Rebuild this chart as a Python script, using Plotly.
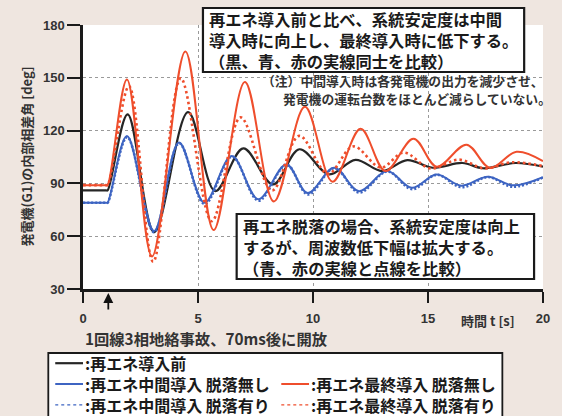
import plotly.graph_objects as go

# ---- data: (time [s], internal phase angle [deg]) read at turning points ----
t_black = [0, 1.0, 1.07, 1.94, 3.09, 4.57, 5.75, 6.97, 8.26, 9.41, 10.7, 11.85, 13.0, 14.1, 15.2, 16.5, 17.4, 18.8, 20]
v_black = [86, 86, 86, 129.2, 62.3, 130.5, 85.6, 109.9, 89.4, 109.4, 95.1, 103.4, 97.0, 103.2, 98.9, 101.6, 98.6, 101.6, 99.5]

t_blue = [0, 1.0, 1.07, 1.91, 3.09, 4.17, 5.28, 6.47, 7.62, 8.84, 9.77, 10.92, 12.0, 13.22, 14.3, 15.37, 16.45, 17.6, 18.68, 20]
v_blue = [79, 79, 79, 116.9, 62.9, 113.3, 79.0, 105.5, 81.0, 100.8, 84.5, 98.9, 85.6, 97.0, 87.5, 95.1, 88.7, 93.8, 88.9, 93.6]

t_blue_drop = [0, 1.0, 1.07, 1.92, 3.09, 4.18, 5.29, 6.48, 7.63, 8.85, 9.78, 10.93, 12.01, 13.23, 14.31, 15.38, 16.46, 17.61, 18.69, 20]
v_blue_drop = [79, 79, 79, 116.3, 62.3, 112.8, 78.3, 105.2, 80.2, 100.6, 83.7, 98.7, 84.8, 96.8, 86.7, 94.9, 87.8, 93.6, 88.1, 93.4]

t_red = [0, 1.0, 1.07, 1.91, 3.00, 4.45, 5.68, 7.04, 8.30, 9.65, 10.85, 12.07, 13.15, 14.37, 15.38, 16.67, 17.70, 18.85, 20]
v_red = [89, 89, 89, 149.1, 48.5, 165.0, 63.5, 147.6, 79.7, 133.5, 91.0, 121.0, 97.0, 115.4, 99.5, 112.0, 98.8, 108.0, 102.7]

t_red_drop = [0, 1.0, 1.07, 2.00, 3.05, 4.25, 5.60, 6.85, 8.22, 9.40, 10.65, 11.75, 12.95, 13.95, 15.10, 16.35, 17.45, 18.65, 20]
v_red_drop = [89, 89, 89, 145.3, 45.5, 149.7, 68.5, 127.5, 86.0, 117.0, 95.5, 111.0, 99.0, 107.5, 98.5, 103.5, 98.5, 102.0, 99.8]

x_ticks = [0, 5, 10, 15, 20]
y_ticks = [30, 60, 90, 120, 150, 180]
fault_time = 1.1

legend_labels = [
    ":再エネ導入前",
    ":再エネ中間導入 脱落無し",
    ":再エネ最終導入 脱落無し",
    ":再エネ中間導入 脱落有り",
    ":再エネ最終導入 脱落有り",
]
box_top_lines = [
    "再エネ導入前と比べ、系統安定度は中間",
    "導入時に向上し、最終導入時に低下する。",
    "（黒、青、赤の実線同士を比較）",
]
box_bottom_lines = [
    "再エネ脱落の場合、系統安定度は向上",
    "するが、周波数低下幅は拡大する。",
    "（青、赤の実線と点線を比較）",
]
note_lines = [
    "（注）中間導入時は各発電機の出力を減少させ、",
    "発電機の運転台数をほとんど減らしていない。",
]
fault_caption = "1回線3相地絡事故、70ms後に開放"

# ---- styling ----
W, H = 562, 416
ML, MR, MT, MB = 83, 15, 25, 127
PW, PH = W - ML - MR, H - MT - MB
BG = "#efe6e0"
BLACK = "#262626"
BLUE = "#3d64c2"
RED = "#ef4e2c"
JP = "Noto Sans CJK JP"
NUM = "Liberation Sans"


def px(xp):
    return (xp - ML) / PW


def py(yp):
    return (H - MB - yp) / PH


fig = go.Figure()

series = [
    (t_black, v_black, BLACK, "solid", 2.2),
    (t_blue_drop, v_blue_drop, BLUE, "2px,2px", 2.6),
    (t_blue, v_blue, BLUE, "solid", 2.0),
    (t_red_drop, v_red_drop, RED, "2.5px,3px", 2.6),
    (t_red, v_red, RED, "solid", 2.0),
]
for tx, vy, col, dash, w in series:
    fig.add_trace(go.Scatter(
        x=tx, y=vy, mode="lines",
        line=dict(color=col, width=w, dash=dash, shape="spline", smoothing=1.0),
        showlegend=False, hoverinfo="skip",
    ))

shapes = []
annotations = []

# framed comment boxes
for (x0, y0, x1, y1) in [(204, 8, 528, 72), (238, 214, 538, 279)]:
    shapes.append(dict(type="rect", xref="paper", yref="paper",
                       x0=px(x0), x1=px(x1), y0=py(y1), y1=py(y0),
                       line=dict(color="#1a1a1a", width=2.2), fillcolor="white", layer="above"))

annotations.append(dict(xref="paper", yref="paper", x=px(208), y=py(40),
                        xanchor="left", yanchor="middle", align="left",
                        text="<br>".join(box_top_lines), showarrow=False,
                        font=dict(family=JP, size=16.3, color="#1a1a1a", weight="bold")))
annotations.append(dict(xref="paper", yref="paper", x=px(242), y=py(247),
                        xanchor="left", yanchor="middle", align="left",
                        text="<br>".join(box_bottom_lines), showarrow=False,
                        font=dict(family=JP, size=16.3, color="#1a1a1a", weight="bold")))
for i, (xr, yy) in enumerate([(550, 80), (557, 98)]):
    annotations.append(dict(xref="paper", yref="paper", x=px(xr), y=py(yy),
                            xanchor="right", yanchor="middle", text=note_lines[i], showarrow=False,
                            font=dict(family=JP, size=12.8, color="#333333", weight="bold")))

# axis titles
annotations.append(dict(xref="paper", yref="paper", x=px(25), y=py(157), textangle=-90,
                        xanchor="center", yanchor="middle", showarrow=False,
                        text="発電機(G1)の内部相差角 [deg]",
                        font=dict(family=JP, size=13, color="#333333", weight="bold")))
annotations.append(dict(xref="paper", yref="paper", x=px(492), y=py(320),
                        xanchor="center", yanchor="middle", showarrow=False,
                        text="時間 t [s]",
                        font=dict(family=JP, size=13, color="#333333", weight="bold")))

# fault marker arrow and caption
annotations.append(dict(xref="x", yref="paper", x=fault_time, y=py(293),
                        axref="pixel", ayref="pixel", ax=0, ay=18, text="",
                        showarrow=True, arrowhead=2, arrowsize=1.1, arrowwidth=1.8,
                        arrowcolor="#111111"))
annotations.append(dict(xref="paper", yref="paper", x=px(83), y=py(338),
                        xanchor="left", yanchor="middle", showarrow=False, text=fault_caption,
                        font=dict(family=JP, size=15.3, color="#333333", weight="bold")))

# legend panel: left column has three rows, right column the lower two
shapes.append(dict(type="rect", xref="paper", yref="paper",
                   x0=px(48), x1=px(506), y0=py(440), y1=py(353),
                   line=dict(color="#1a1a1a", width=1.8), fillcolor="white", layer="above"))
row_y = [363.2, 384.0, 404.8]
legend_keys = [
    (55, row_y[0], BLACK, "solid", 2.2),
    (55, row_y[1], BLUE, "solid", 2.0),
    (283, row_y[1], RED, "solid", 2.0),
    (55, row_y[2], BLUE, "dot", 1.2),
    (283, row_y[2], RED, "dot", 1.2),
]
for x0, yy, col, dash, w in legend_keys:
    shapes.append(dict(type="line", xref="paper", yref="paper",
                       x0=px(x0), x1=px(x0 + 28), y0=py(yy), y1=py(yy),
                       line=dict(color=col, width=w, dash=dash), layer="above"))
legend_font = dict(family=JP, size=16, color="#1a1a1a", weight="bold")
annotations.append(dict(xref="paper", yref="paper", x=px(83), y=py(row_y[1]),
                        xanchor="left", yanchor="middle", align="left", showarrow=False,
                        text="<br>".join([legend_labels[0], legend_labels[1], legend_labels[3]]),
                        font=legend_font))
annotations.append(dict(xref="paper", yref="paper", x=px(311), y=py((row_y[1] + row_y[2]) / 2),
                        xanchor="left", yanchor="middle", align="left", showarrow=False,
                        text="<br>".join([legend_labels[2], legend_labels[4]]),
                        font=legend_font))

fig.update_layout(
    width=W, height=H,
    margin=dict(l=ML, r=MR, t=MT, b=MB, pad=0),
    paper_bgcolor=BG, plot_bgcolor="white",
    shapes=shapes, annotations=annotations,
    showlegend=False,
)
fig.update_xaxes(
    range=[0, 20], tickvals=x_ticks, ticktext=[str(v) for v in x_ticks],
    showgrid=True, gridcolor="#9a9a9a", griddash="dot", gridwidth=1,
    showline=True, linecolor="#1a1a1a", linewidth=2.5, zeroline=False,
    ticks="outside", ticklen=11, tickwidth=2, tickcolor="#1a1a1a",
    ticklabelstandoff=5,
    tickfont=dict(family=NUM, size=13, color="#333333", weight="bold"),
)
fig.update_yaxes(
    range=[30, 180], tickvals=y_ticks,
    showgrid=True, gridcolor="#9a9a9a", griddash="dot", gridwidth=1,
    showline=True, linecolor="#1a1a1a", linewidth=2.5, zeroline=False,
    ticks="outside", ticklen=13, tickwidth=2, tickcolor="#1a1a1a",
    tickfont=dict(family=NUM, size=13, color="#333333", weight="bold"),
)

fig.write_html("out.html")
